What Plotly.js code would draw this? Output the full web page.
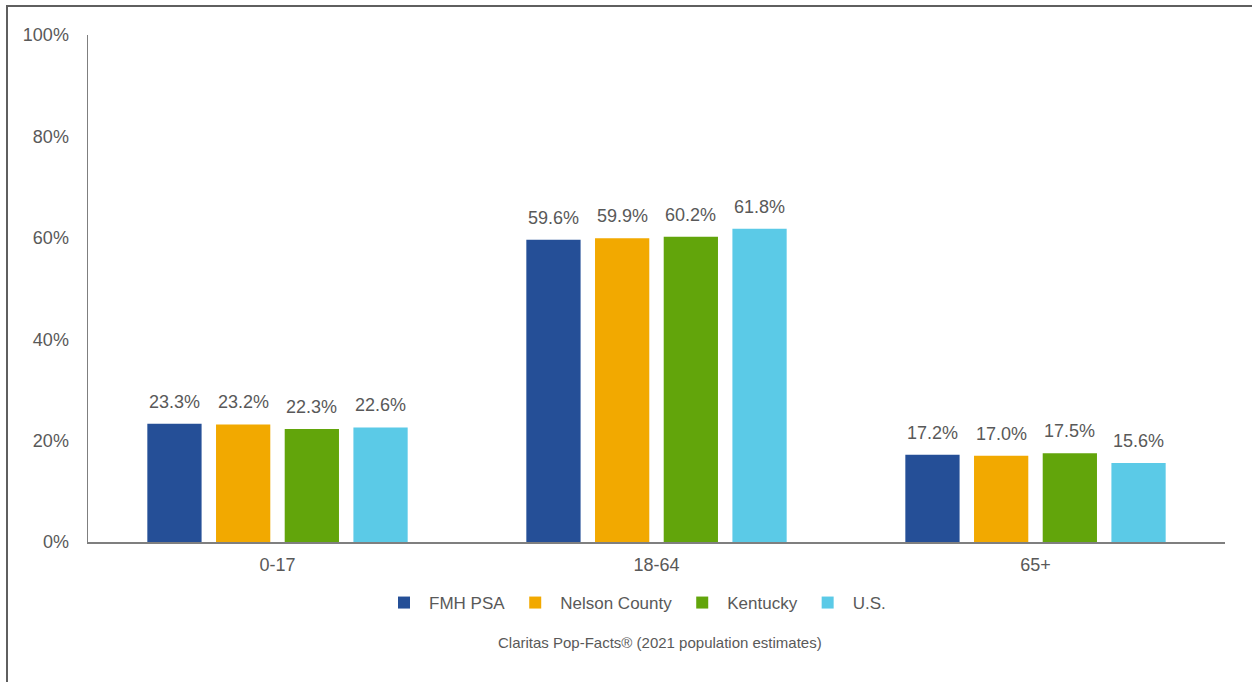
<!DOCTYPE html>
<html>
<head>
<meta charset="utf-8">
<script src="https://cdn.plot.ly/plotly-3.0.1.min.js"></script>
<style>
  html, body { margin: 0; padding: 0; background: #fff; }
  #wrap { position: relative; width: 1252px; height: 682px; overflow: hidden; }
  #chart { width: 1252px; height: 682px; }
  #frame { position: absolute; left: 6px; top: 5px; width: 1300px; height: 800px;
           border-left: 2px solid #5f5f5f; border-top: 2px solid #5f5f5f; pointer-events: none; }
</style>
</head>
<body>
<div id="wrap">
  <div id="chart"></div>
  <div id="frame"></div>
</div>
<script>
const categories = ["0-17", "18-64", "65+"];
const seriesNames = ["FMH PSA", "Nelson County", "Kentucky", "U.S."];
const fmhPsa = [23.3, 59.6, 17.2];
const nelsonCounty = [23.2, 59.9, 17.0];
const kentucky = [22.3, 60.2, 17.5];
const us = [22.6, 61.8, 15.6];
const seriesValues = [fmhPsa, nelsonCounty, kentucky, us];
const seriesColors = ["#254F97", "#F2A900", "#62A50B", "#5BCAE7"];
const yTicks = [0, 20, 40, 60, 80, 100];
const yTickLabels = ["0%", "20%", "40%", "60%", "80%", "100%"];
const sourceText = "Claritas Pop-Facts® (2021 population estimates)";

const gray = "#595959";
const fontFamily = "Liberation Sans, Arial, sans-serif";
const bargap = 0.275;
const bargroupgap = 0.21;

const traces = seriesNames.map((name, i) => ({
  type: "bar",
  name: name,
  x: categories,
  y: seriesValues[i],
  marker: { color: seriesColors[i] },
  hoverinfo: "skip"
}));

// value labels placed at each bar's center, derived from the bar layout
const slot = (1 - bargap) / seriesNames.length;
const labelAnnotations = [];
seriesValues.forEach((vals, j) => {
  vals.forEach((v, c) => {
    labelAnnotations.push({
      x: c + (j - (seriesNames.length - 1) / 2) * slot,
      y: v,
      xref: "x",
      yref: "y",
      text: v.toFixed(1) + "%",
      showarrow: false,
      xanchor: "center",
      yanchor: "middle",
      yshift: 22,
      font: { family: fontFamily, size: 18, color: gray }
    });
  });
});

const layout = {
  width: 1252,
  height: 682,
  margin: { l: 88, r: 27, t: 35, b: 140 },
  paper_bgcolor: "#fff",
  plot_bgcolor: "#fff",
  barmode: "group",
  bargap: bargap,
  bargroupgap: bargroupgap,
  showlegend: true,
  font: { family: fontFamily, color: gray },
  xaxis: {
    type: "category",
    showline: true,
    linecolor: "#7f7f7f",
    linewidth: 1.5,
    showgrid: false,
    zeroline: false,
    ticks: "",
    ticklabelstandoff: 6,
    tickfont: { family: fontFamily, size: 18, color: gray },
    fixedrange: true
  },
  yaxis: {
    range: [0, 100],
    tickvals: yTicks,
    ticktext: yTickLabels,
    showline: true,
    linecolor: "#7f7f7f",
    linewidth: 1.5,
    showgrid: false,
    zeroline: false,
    ticks: "",
    ticklabelstandoff: 14,
    tickfont: { family: fontFamily, size: 18, color: gray },
    fixedrange: true
  },
  legend: {
    orientation: "h",
    x: (635 - 88) / 1137,
    xanchor: "center",
    y: -(603 - 542) / 507,
    yanchor: "middle",
    itemwidth: 40,
    font: { family: fontFamily, size: 17, color: gray },
    itemclick: false,
    itemdoubleclick: false,
    traceorder: "normal"
  },
  annotations: labelAnnotations.concat([{
    text: sourceText,
    xref: "paper",
    yref: "paper",
    x: (660 - 88) / 1137,
    y: -(642 - 542) / 507,
    xanchor: "center",
    yanchor: "middle",
    showarrow: false,
    font: { family: fontFamily, size: 15, color: gray }
  }])
};

Plotly.newPlot("chart", traces, layout, { displayModeBar: false, staticPlot: true });
</script>
</body>
</html>
